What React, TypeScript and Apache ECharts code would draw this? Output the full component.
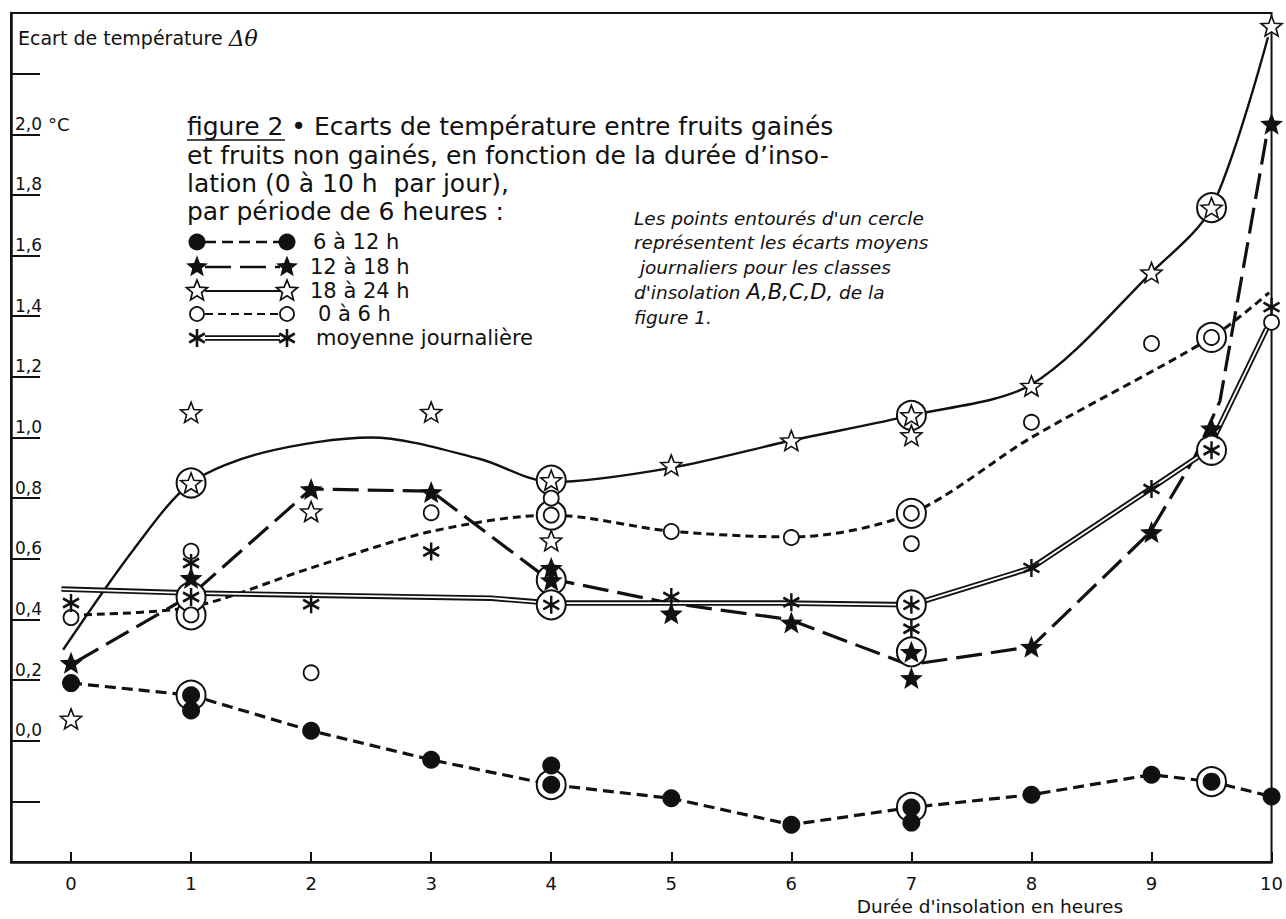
import React, { useEffect, useRef } from "react";
import * as echarts from "echarts";

type P = [number, number];

// ---------------- data ----------------
const xTickValues = [0, 1, 2, 3, 4, 5, 6, 7, 8, 9, 10];
const yLabelledTicks = [0, 0.2, 0.4, 0.6, 0.8, 1.0, 1.2, 1.4, 1.6, 1.8, 2.0];

const legendLabels = ["6 à 12 h", "12 à 18 h", "18 à 24 h", "0 à 6 h", "moyenne journalière"];

// 6 à 12 h (filled circles)
const pts612: P[] = [[0, 0.19], [1, 0.1], [2, 0.033], [3, -0.063], [4, -0.082], [5, -0.19], [6, -0.277], [7, -0.27], [8, -0.178], [9, -0.112], [10, -0.184]];
const ring612: P[] = [[1, 0.15], [4, -0.145], [7, -0.22], [9.5, -0.135]];
const curve612: P[] = [[0, 0.19], [1, 0.15], [2, 0.033], [3, -0.063], [4, -0.145], [5, -0.19], [6, -0.277], [7, -0.22], [8, -0.178], [9, -0.112], [9.5, -0.135], [10, -0.184]];

// 12 à 18 h (filled stars)
const pts1218: P[] = [[0, 0.257], [1, 0.537], [2, 0.83], [3, 0.82], [4, 0.57], [5, 0.42], [6, 0.39], [7, 0.207], [8, 0.31], [9, 0.688], [9.5, 1.03], [10, 2.035]];
const ring1218: P[] = [[4, 0.53], [7, 0.293]];
const curve1218: P[] = [[0.04, 0.26], [1, 0.48], [2, 0.83], [3, 0.823], [3.96, 0.537], [4.97, 0.455], [5.98, 0.4], [6.98, 0.25], [8, 0.31], [8.99, 0.688], [9.36, 0.935], [9.57, 1.12], [9.97, 2.02]];

// 18 à 24 h (open stars)
const pts1824: P[] = [[0, 0.072], [1, 1.083], [2, 0.756], [3, 1.084], [4, 0.66], [5, 0.909], [6, 0.99], [7, 1.007], [8, 1.17], [9, 1.544], [10, 2.357]];
const ring1824: P[] = [[1, 0.85], [4, 0.859], [7, 1.073], [9.5, 1.758]];
const curve1824: P[] = [[-0.066, 0.3], [0.52, 0.63], [1, 0.85], [1.6, 0.95], [2.5, 1.0], [3.4, 0.93], [4, 0.853], [5, 0.9], [6, 0.99], [7, 1.073], [8, 1.175], [9, 1.544], [9.5, 1.758], [9.97, 2.32]];

// 0 à 6 h (open circles)
const pts06: P[] = [[0, 0.406], [1, 0.625], [2, 0.224], [3, 0.752], [4, 0.8], [5, 0.69], [6, 0.67], [7, 0.65], [8, 1.05], [9, 1.31], [10, 1.38]];
const ring06: P[] = [[1, 0.415], [4, 0.744], [7, 0.75], [9.5, 1.33]];
const curve06: P[] = [[0, 0.415], [1, 0.441], [2, 0.57], [3, 0.69], [4, 0.744], [5, 0.691], [6, 0.672], [7, 0.75], [8, 1.0], [9.5, 1.33], [9.98, 1.478]];

// moyenne journalière (asterisks)
const ptsMoy: P[] = [[0, 0.454], [1, 0.586], [2, 0.45], [3, 0.624], [5, 0.474], [6, 0.457], [7, 0.369], [8, 0.57], [9, 0.83], [10, 1.43]];
const ringMoy: P[] = [[1, 0.474], [4, 0.448], [7, 0.448], [9.5, 0.958]];
const curveMoy: P[] = [[-0.08, 0.5], [1, 0.487], [3.5, 0.47], [4, 0.454], [5.9, 0.454], [7, 0.448], [8, 0.57], [9, 0.833], [9.47, 0.958], [9.96, 1.36]];

const titleLines = [
  "figure 2 • Ecarts de température entre fruits gainés",
  "et fruits non gainés, en fonction de la durée d’inso-",
  "lation (0 à 10 h  par jour),",
  "par période de 6 heures :",
];
const noteLines = [
  "Les points entourés d'un cercle",
  "représentent les écarts moyens",
  " journaliers pour les classes",
  "d'insolation {c|A,B,C,D,} de la",
  "figure 1.",
];
const yAxisTitle = "Ecart de température ";
const yAxisSymbol = "Δθ";
const yUnit = "°C";
const xAxisTitle = "Durée d'insolation en heures";

// ---------------- styling ----------------
const INK = "#111111";
const FONT = '"DejaVu Sans", Verdana, sans-serif';

const starPts = (cx: number, cy: number, R: number, r: number): number[][] => {
  const pts: number[][] = [];
  for (let k = 0; k < 10; k++) {
    const a = ((-90 + k * 36) * Math.PI) / 180;
    const rad = k % 2 === 0 ? R : r;
    pts.push([cx + rad * Math.cos(a), cy + rad * Math.sin(a)]);
  }
  return pts;
};
const STAR_PATH =
  "path://" +
  starPts(0, 0, 10, 4.3)
    .map((p, i) => (i ? "L" : "M") + p[0].toFixed(3) + "," + p[1].toFixed(3))
    .join("") +
  "Z";
const AST_PATH = "path://M0,-10L0,10M-8.66,-5L8.66,5M-8.66,5L8.66,-5";

const LEG_Y = [242, 267, 291, 314, 338];
const LEG_TEXT_X = [313, 310, 310, 318, 316];

function legendMarker(kind: string, cx: number, cy: number): any {
  switch (kind) {
    case "dot":
      return { type: "circle", shape: { cx, cy, r: 8.5 }, style: { fill: INK } };
    case "fstar":
      return { type: "polygon", shape: { points: starPts(cx, cy, 11.5, 5) }, style: { fill: INK } };
    case "ostar":
      return { type: "polygon", shape: { points: starPts(cx, cy, 11, 4.8) }, style: { fill: "#fff", stroke: INK, lineWidth: 1.7 } };
    case "ocircle":
      return { type: "circle", shape: { cx, cy, r: 7 }, style: { fill: "#fff", stroke: INK, lineWidth: 1.8 } };
    default: {
      const s = { stroke: INK, lineWidth: 2.6 };
      return {
        type: "group",
        children: [
          { type: "line", shape: { x1: cx, y1: cy - 9, x2: cx, y2: cy + 9 }, style: s },
          { type: "line", shape: { x1: cx - 7.8, y1: cy - 4.5, x2: cx + 7.8, y2: cy + 4.5 }, style: s },
          { type: "line", shape: { x1: cx - 7.8, y1: cy + 4.5, x2: cx + 7.8, y2: cy - 4.5 }, style: s },
        ],
      };
    }
  }
}

const seriesStyles = [
  { kind: "dot", width: 3.2, dash: [11, 6] as any },
  { kind: "fstar", width: 3.2, dash: [26, 9] as any },
  { kind: "ostar", width: 2.4, dash: "solid" as any },
  { kind: "ocircle", width: 3, dash: [8, 5] as any },
  { kind: "ast", width: 0, dash: "double" as any },
];

function buildOption(): any {
  const lineSeries = (data: P[], width: number, type: any, smooth: number | boolean, color = INK) => ({
    type: "line",
    data,
    symbol: "none",
    showSymbol: false,
    smooth,
    silent: true,
    lineStyle: { color, width, type, cap: "butt", opacity: 1 },
    z: 2,
  });
  const markers = (data: P[], symbol: string, size: any, itemStyle: any) => ({
    type: "scatter",
    data,
    symbol,
    symbolSize: size,
    silent: true,
    itemStyle: { opacity: 1, ...itemStyle },
    z: 4,
  });

  const graphics: any[] = [];
  graphics.push({
    type: "text",
    x: 18,
    y: 38,
    style: {
      text: yAxisTitle + "{m|" + yAxisSymbol + "}",
      fontSize: 19,
      fontFamily: FONT,
      fill: INK,
      verticalAlign: "middle",
      rich: { m: { fontSize: 22, fontFamily: '"DejaVu Serif", serif', fontStyle: "italic", fill: INK } },
    },
  });
  graphics.push({
    type: "text",
    x: 48,
    y: 124,
    style: { text: yUnit, fontSize: 18, fontFamily: FONT, fill: INK, verticalAlign: "middle" },
  });
  const titleY = [126, 155, 183, 211];
  titleLines.forEach((t, i) => {
    graphics.push({
      type: "text",
      x: 187,
      y: titleY[i],
      style: { text: t, fontSize: 25, fontFamily: FONT, fill: INK, verticalAlign: "middle" },
    });
  });
  graphics.push({ type: "line", shape: { x1: 187, y1: 140, x2: 285, y2: 140 }, style: { stroke: INK, lineWidth: 1.6 } });
  legendLabels.forEach((lab, i) => {
    const st = seriesStyles[i];
    const y = LEG_Y[i];
    if (st.dash === "double") {
      graphics.push({ type: "line", shape: { x1: 205, y1: y, x2: 280, y2: y }, style: { stroke: INK, lineWidth: 5.5 } });
      graphics.push({ type: "line", shape: { x1: 205, y1: y, x2: 280, y2: y }, style: { stroke: "#fff", lineWidth: 1.8 } });
    } else {
      graphics.push({
        type: "line",
        shape: { x1: 205, y1: y, x2: 280, y2: y },
        style: { stroke: INK, lineWidth: Math.max(1.8, st.width - 0.8), lineDash: st.dash === "solid" ? null : st.dash },
      });
    }
    graphics.push(legendMarker(st.kind, 197, y));
    graphics.push(legendMarker(st.kind, 287, y));
    graphics.push({
      type: "text",
      x: LEG_TEXT_X[i],
      y,
      style: { text: lab, fontSize: 21, fontFamily: FONT, fill: INK, verticalAlign: "middle" },
    });
  });
  const noteY = [218, 242, 267, 292, 317];
  noteLines.forEach((t, i) => {
    graphics.push({
      type: "text",
      x: 634,
      y: noteY[i],
      style: {
        text: t,
        fontSize: 18.5,
        fontStyle: "italic",
        fontFamily: FONT,
        fill: INK,
        verticalAlign: "middle",
        rich: { c: { fontSize: 21, fontStyle: "italic", fontFamily: FONT, fill: INK } },
      },
    });
  });
  graphics.push({
    type: "text",
    x: 990,
    y: 906,
    style: { text: xAxisTitle, fontSize: 18.5, fontFamily: FONT, fill: INK, align: "center", verticalAlign: "middle" },
  });

  const allRings = [...ring612, ...ring1218, ...ring1824, ...ring06, ...ringMoy];

  return {
    animation: false,
    backgroundColor: "#ffffff",
    grid: { left: 11, right: 9, top: 13, bottom: 57, show: true, borderColor: INK, borderWidth: 2, backgroundColor: "transparent" },
    xAxis: {
      type: "value",
      min: -0.5,
      max: 10,
      axisLine: { show: true, onZero: false, lineStyle: { color: INK, width: 2.5 } },
      axisTick: { show: true, inside: true, length: 10, customValues: xTickValues, lineStyle: { color: INK, width: 2 } },
      axisLabel: {
        show: true,
        customValues: xTickValues,
        margin: 12,
        fontSize: 18,
        fontFamily: FONT,
        color: INK,
        formatter: (v: number) => String(v),
      },
      splitLine: { show: false },
    },
    yAxis: {
      type: "value",
      min: -0.4,
      max: 2.4,
      interval: 0.2,
      axisLine: { show: true, onZero: false, lineStyle: { color: INK, width: 2.5 } },
      axisTick: { show: true, inside: true, length: 29, lineStyle: { color: INK, width: 2 } },
      axisLabel: {
        show: true,
        inside: true,
        margin: 4,
        align: "left",
        verticalAlign: "bottom",
        padding: [0, 0, 2, 0],
        fontSize: 17,
        fontFamily: FONT,
        color: INK,
        formatter: (v: number) => {
          const r = Math.round(v * 10) / 10;
          return yLabelledTicks.some((t) => Math.abs(t - r) < 1e-6) ? r.toFixed(1).replace(".", ",") : "";
        },
      },
      splitLine: { show: false },
    },
    series: [
      lineSeries(curve612, seriesStyles[0].width, seriesStyles[0].dash, false),
      lineSeries(curve1218, seriesStyles[1].width, seriesStyles[1].dash, false),
      lineSeries(curve1824, seriesStyles[2].width, "solid", 0.3),
      lineSeries(curve06, seriesStyles[3].width, seriesStyles[3].dash, 0.3),
      lineSeries(curveMoy, 5.5, "solid", false),
      lineSeries(curveMoy, 1.8, "solid", false, "#ffffff"),
      {
        type: "scatter",
        data: allRings,
        symbol: "circle",
        symbolSize: 29,
        silent: true,
        itemStyle: { color: "#ffffff", borderColor: INK, borderWidth: 2, opacity: 1 },
        z: 3,
      },
      markers([...pts612, ...ring612], "circle", 18, { color: INK }),
      markers([...pts1218, ...ring1218], STAR_PATH, [23, 22], { color: INK }),
      markers([...pts1824, ...ring1824], STAR_PATH, [21, 20], { color: "#ffffff", borderColor: INK, borderWidth: 1.6 }),
      markers([...pts06, ...ring06], "circle", 15, { color: "#ffffff", borderColor: INK, borderWidth: 1.8 }),
      markers([...ptsMoy, ...ringMoy], AST_PATH, [16, 18], { color: "none", borderColor: INK, borderWidth: 2.6 }),
    ],
    graphic: { elements: graphics },
  };
}

export default function App() {
  const ref = useRef<HTMLDivElement>(null);
  useEffect(() => {
    if (!ref.current) return;
    const chart = echarts.init(ref.current, undefined, { renderer: "svg" });
    chart.setOption(buildOption());
    return () => chart.dispose();
  }, []);
  return (
    <div
      ref={ref}
      style={{ position: "fixed", left: 0, top: 0, width: 1286, height: 919, background: "#fff" }}
    />
  );
}
